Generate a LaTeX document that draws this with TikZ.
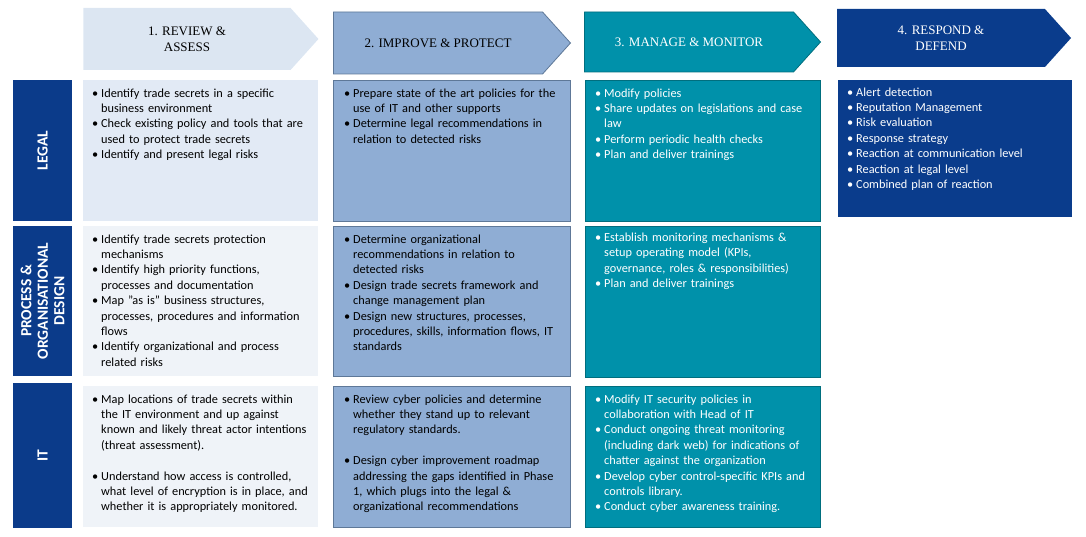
\documentclass[tikz,border=0pt]{standalone}
\usepackage{fontspec}
\setmainfont{Carlito}
\newfontfamily\headfont{Liberation Serif}
\usetikzlibrary{shapes.symbols}

\definecolor{revhead}{HTML}{DCE6F2}
\definecolor{revlegal}{HTML}{E2EAF5}
\definecolor{revlight}{HTML}{EFF3F8}
\definecolor{impfill}{HTML}{8FADD4}
\definecolor{impline}{HTML}{5E7898}
\definecolor{monfill}{HTML}{0091AA}
\definecolor{monline}{HTML}{006E7E}
\definecolor{resfill}{HTML}{0A3C8C}
\definecolor{navy}{HTML}{0B3B8A}

% bullet item with hanging indent
\newcommand{\bl}{\par\hangindent=9pt\hangafter=1\noindent\makebox[9pt][l]{\textbullet}\strut}
\newcommand{\gap}{\par\vspace{\baselineskip}}

\begin{document}
\begin{tikzpicture}[
      x=1pt, y=1pt,
      head/.style={signal, signal to=east, signal pointer angle=96, inner sep=0pt, align=center,
                   font=\headfont\fontsize{13}{16}\selectfont},
      lab/.style={fill=navy, text=white, rotate=90, align=center, inner sep=0pt, minimum height=59pt,
                  font=\bfseries\fontsize{15.5}{16.5}\selectfont},
      cell/.style={anchor=north west, inner sep=0pt},
      rev/.style={cell, fill=revlight, minimum width=235pt},
      imp/.style={cell, fill=impfill, draw=impline, line width=0.8pt, minimum width=237pt},
      mon/.style={cell, fill=monfill, draw=monline, line width=0.8pt, minimum width=235pt},
      res/.style={cell, fill=resfill, minimum width=234pt},
      txt/.style={anchor=north west, inner sep=0pt, align=left, text width=224pt,
                  font=\fontsize{12.3}{15.4}\selectfont}
    ]
      \useasboundingbox (0,0) rectangle (1086,-537);

      % phase headers
      \node[head, fill=revhead, minimum width=235pt, minimum height=62pt] (h-rev) at (187,-39) {1. REVIEW \&\\ASSESS};
      \node[head, fill=impfill, draw=impline, line width=0.8pt, minimum width=237pt, minimum height=62pt] (h-imp) at (438,-43) {2. IMPROVE \& PROTECT};
      \node[head, fill=monfill, draw=monline, line width=0.8pt, text=white, minimum width=236pt, minimum height=60pt] (h-mon) at (689,-42) {3. MANAGE \& MONITOR};
      \node[head, fill=resfill, text=white, minimum width=234pt, minimum height=58pt] (h-res) at (941,-38) {4. RESPOND \&\\DEFEND};

      % row labels
      \node[lab, minimum width=141pt] (legal) at (42.5,-150.5) {LEGAL};
      \node[lab, minimum width=150pt] (proc) at (42.5,-301) {PROCESS \&\\ORGANISATIONAL\\DESIGN};
      \node[lab, minimum width=145pt] (it) at (42.5,-455.5) {IT};

      % legal row
      \node[rev, fill=revlegal, minimum height=141pt] (legal-rev) at (83,-80) {};
      \node[imp, minimum height=141pt] (legal-imp) at (333,-80) {};
      \node[mon, minimum height=141pt] (legal-mon) at (585,-80) {};
      \node[res, minimum height=137pt] (legal-res) at (838,-80) {};
      \node[txt] at ([shift={(9pt,-1.5pt)}]legal-rev.north west) {%
        \bl Identify trade secrets in a specific\newline business environment
        \bl Check existing policy and tools that are\newline used to protect trade secrets
        \bl Identify and present legal risks\par};
      \node[txt] at ([shift={(11pt,-1.5pt)}]legal-imp.north west) {%
        \bl Prepare state of the art policies for the\newline use of IT and other supports
        \bl Determine legal recommendations in\newline relation to detected risks\par};
      \node[txt, text=white] at ([shift={(10pt,-1.5pt)}]legal-mon.north west) {%
        \bl Modify policies
        \bl Share updates on legislations and case\newline law
        \bl Perform periodic health checks
        \bl Plan and deliver trainings\par};
      \node[txt, text=white] at ([shift={(9pt,-0.5pt)}]legal-res.north west) {%
        \bl Alert detection
        \bl Reputation Management
        \bl Risk evaluation
        \bl Response strategy
        \bl Reaction at communication level
        \bl Reaction at legal level
        \bl Combined plan of reaction\par};

      % process row
      \node[rev, minimum height=150pt] (proc-rev) at (83,-226) {};
      \node[imp, minimum height=150pt] (proc-imp) at (333,-226) {};
      \node[mon, minimum height=151pt] (proc-mon) at (585,-226) {};
      \node[txt] at ([shift={(9pt,-1.5pt)}]proc-rev.north west) {%
        \bl Identify trade secrets protection\newline mechanisms
        \bl Identify high priority functions,\newline processes and documentation
        \bl Map "as is" business structures,\newline processes, procedures and information\newline flows
        \bl Identify organizational and process\newline related risks\par};
      \node[txt] at ([shift={(11pt,-1.5pt)}]proc-imp.north west) {%
        \bl Determine organizational\newline recommendations in relation to\newline detected risks
        \bl Design trade secrets framework and\newline change management plan
        \bl Design new structures, processes,\newline procedures, skills, information flows, IT\newline standards\par};
      \node[txt, text=white] at ([shift={(10pt,0pt)}]proc-mon.north west) {%
        \bl Establish monitoring mechanisms \&\newline setup operating model (KPIs,\newline governance, roles \& responsibilities)
        \bl Plan and deliver trainings\par};

      % IT row
      \node[rev, minimum height=141pt] (it-rev) at (83,-386) {};
      \node[imp, minimum height=141pt] (it-imp) at (333,-386) {};
      \node[mon, minimum height=141pt] (it-mon) at (585,-386) {};
      \node[txt] at ([shift={(9pt,-1.5pt)}]it-rev.north west) {%
        \bl Map locations of trade secrets within\newline the IT environment and up against\newline known and likely threat actor intentions\newline (threat assessment).
        \gap
        \bl Understand how access is controlled,\newline what level of encryption is in place, and\newline whether it is appropriately monitored.\par};
      \node[txt] at ([shift={(11pt,-1.5pt)}]it-imp.north west) {%
        \bl Review cyber policies and determine\newline whether they stand up to relevant\newline regulatory standards.
        \gap
        \bl Design cyber improvement roadmap\newline addressing the gaps identified in Phase\newline 1, which plugs into the legal \&\newline organizational recommendations\par};
      \node[txt, text=white] at ([shift={(10pt,-1.5pt)}]it-mon.north west) {%
        \bl Modify IT security policies in\newline collaboration with Head of IT
        \bl Conduct ongoing threat monitoring\newline (including dark web) for indications of\newline chatter against the organization
        \bl Develop cyber control-specific KPIs and\newline controls library.
        \bl Conduct cyber awareness training.\par};
    \end{tikzpicture}
\end{document}
